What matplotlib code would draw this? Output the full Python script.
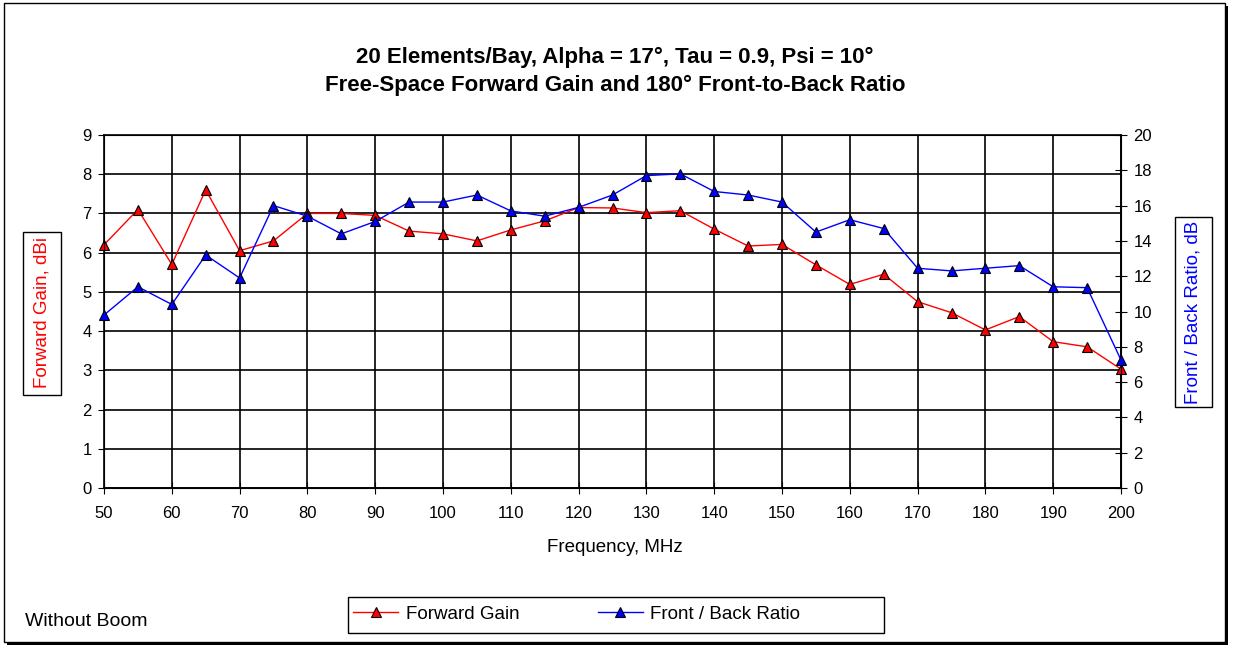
import matplotlib
matplotlib.use('Agg')
import matplotlib.pyplot as plt
from matplotlib.patches import Rectangle
import numpy as np

plt.rcParams['font.family'] = ['Liberation Sans', 'DejaVu Sans']

freq = [50, 55, 60, 65, 70, 75, 80, 85, 90, 95, 100, 105, 110, 115, 120, 125,
        130, 135, 140, 145, 150, 155, 160, 165, 170, 175, 180, 185, 190, 195, 200]
gain = [6.2, 7.1, 5.7, 7.6, 6.05, 6.3, 7.0, 7.0, 6.95, 6.55, 6.48, 6.3, 6.58, 6.81, 7.15, 7.14,
        7.02, 7.07, 6.6, 6.17, 6.21, 5.69, 5.19, 5.45, 4.75, 4.47, 4.03, 4.37, 3.73, 3.6, 3.03]
fb = [9.8, 11.4, 10.4, 13.2, 11.9, 16.0, 15.4, 14.4, 15.1, 16.2, 16.2, 16.6, 15.7, 15.4, 15.9, 16.6,
      17.7, 17.8, 16.8, 16.6, 16.2, 14.5, 15.2, 14.7, 12.45, 12.3, 12.45, 12.6, 11.4, 11.35, 7.25]

W, H = 1233, 649
fig = plt.figure(figsize=(W / 100, H / 100), dpi=100)


def box(x0, y0, x1, y1, shadow=0, lw=1):
    # rectangle in pixel coords (y from top)
    if shadow:
        fig.patches.append(Rectangle(((x0 + shadow) / W, 1 - (y1 + shadow) / H), (x1 - x0) / W, (y1 - y0) / H,
                                     transform=fig.transFigure, facecolor='black', edgecolor='none', zorder=-2))
    fig.patches.append(Rectangle((x0 / W, 1 - y1 / H), (x1 - x0) / W, (y1 - y0) / H,
                                 transform=fig.transFigure, facecolor='white', edgecolor='black',
                                 linewidth=lw, zorder=-1))


# outer chart frame with shadow
box(4, 3, 1225, 642, shadow=3)

ax = fig.add_axes([104 / W, 1 - 488 / H, (1121 - 104) / W, (488 - 135) / H])
ax.patch.set_alpha(0)
ax.plot(freq, gain, color='red', lw=1, marker='^', markersize=7, clip_on=False, zorder=3,
        markerfacecolor='red', markeredgecolor='black', markeredgewidth=0.8, label='Forward Gain')
ax.set_xlim(50, 200)
ax.set_ylim(0, 9)
ax.set_xticks(np.arange(50, 201, 10))
ax.set_yticks(np.arange(0, 10, 1))
ax.grid(True, color='black', lw=1.2)
ax.tick_params(axis='x', direction='inout', length=8, labelsize=12, pad=9)
ax.tick_params(axis='y', direction='out', length=4, labelsize=12, pad=5)
for s in ax.spines.values():
    s.set_linewidth(1.2)

ax2 = ax.twinx()
ax2.plot(freq, fb, color='blue', lw=1, marker='^', markersize=7, clip_on=False, zorder=3,
         markerfacecolor='blue', markeredgecolor='black', markeredgewidth=0.8, label='Front / Back Ratio')
ax2.set_ylim(0, 20)
ax2.set_yticks(np.arange(0, 21, 2))
ax2.tick_params(axis='y', direction='inout', length=8, labelsize=12, pad=5)

fig.text(615 / W, 1 - 547 / H, 'Frequency, MHz', ha='center', va='center', fontsize=13.5)

fig.text(615 / W, 1 - 57 / H, '20 Elements/Bay, Alpha = 17°, Tau = 0.9, Psi = 10°',
         ha='center', va='center', fontsize=16, fontweight='bold')
fig.text(615 / W, 1 - 85 / H, 'Free-Space Forward Gain and 180° Front-to-Back Ratio',
         ha='center', va='center', fontsize=16, fontweight='bold')

# axis title boxes
box(23, 232, 61, 395)
fig.text(42 / W, 1 - 313 / H, 'Forward Gain, dBi', rotation=90, ha='center', va='center',
         fontsize=13.5, color='red')
box(1175, 217, 1212, 407)
fig.text(1193.5 / W, 1 - 312 / H, 'Front / Back Ratio, dB', rotation=90, ha='center', va='center',
         fontsize=13.5, color='blue')

fig.text(25 / W, 1 - 622 / H, 'Without Boom', ha='left', va='center', fontsize=14)

# legend frame with shadow, legend itself unframed
box(348, 597, 884, 633, shadow=3)
h1, l1 = ax.get_legend_handles_labels()
h2, l2 = ax2.get_legend_handles_labels()
leg = fig.legend(h1 + h2, l1 + l2, ncol=2, loc='center left', bbox_to_anchor=(338 / W, 1 - 614 / H),
                 fontsize=13.5, frameon=False, handlelength=2.4, handletextpad=0.4,
                 columnspacing=4.2, borderpad=0.3)

fig.savefig('out.png', dpi=100)
